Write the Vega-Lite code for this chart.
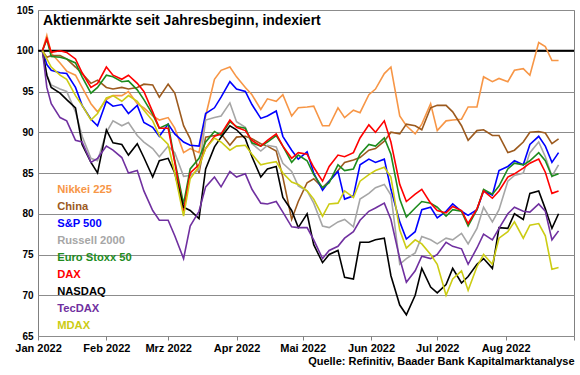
{
  "$schema": "https://vega.github.io/schema/vega-lite/v6.json",
  "width": 536,
  "height": 326,
  "autosize": {"type": "none"},
  "padding": {"left": 38, "top": 10, "right": 6, "bottom": 39},
  "background": "white",
  "title": {"text": "Aktienmärkte seit Jahresbeginn, indexiert", "anchor": "start", "frame": "group", "offset": -23, "dx": 5, "fontSize": 14, "fontWeight": "bold", "font": "Liberation Sans", "color": "black"},
  "config": {"view": {"stroke": "#808080", "strokeWidth": 1}, "font": "Liberation Sans"},
  "data": {"values": [
    {"d":"2022-01-03","Nikkei 225":100,"China":100,"S&P 500":100,"Russell 2000":100,"Euro Stoxx 50":100,"DAX":100,"NASDAQ":100,"TecDAX":100,"MDAX":100},
    {"d":"2022-01-05","Nikkei 225":101.9,"China":99.2,"S&P 500":98.3,"Russell 2000":97,"Euro Stoxx 50":101.4,"DAX":101.5,"NASDAQ":97,"TecDAX":95.5,"MDAX":99},
    {"d":"2022-01-07","Nikkei 225":99.7,"China":99.4,"S&P 500":97.6,"Russell 2000":95.8,"Euro Stoxx 50":99.3,"DAX":99.8,"NASDAQ":95.5,"TecDAX":93.5,"MDAX":98},
    {"d":"2022-01-11","Nikkei 225":98.5,"China":99.4,"S&P 500":97.3,"Russell 2000":95.3,"Euro Stoxx 50":99.2,"DAX":100,"NASDAQ":94.8,"TecDAX":91.8,"MDAX":97},
    {"d":"2022-01-14","Nikkei 225":97.5,"China":99,"S&P 500":97.2,"Russell 2000":95,"Euro Stoxx 50":99,"DAX":99.8,"NASDAQ":94,"TecDAX":91.4,"MDAX":96.5},
    {"d":"2022-01-18","Nikkei 225":97,"China":98,"S&P 500":95.5,"Russell 2000":92.5,"Euro Stoxx 50":98.5,"DAX":99,"NASDAQ":93,"TecDAX":89,"MDAX":94.5},
    {"d":"2022-01-21","Nikkei 225":95.5,"China":97.2,"S&P 500":93.3,"Russell 2000":89.5,"Euro Stoxx 50":96.8,"DAX":97.3,"NASDAQ":88.5,"TecDAX":88.8,"MDAX":93.3},
    {"d":"2022-01-25","Nikkei 225":93.5,"China":96,"S&P 500":91.6,"Russell 2000":86.8,"Euro Stoxx 50":94.8,"DAX":95.5,"NASDAQ":86.3,"TecDAX":86.3,"MDAX":91.5},
    {"d":"2022-01-28","Nikkei 225":92.5,"China":96.4,"S&P 500":90.8,"Russell 2000":86.5,"Euro Stoxx 50":95.5,"DAX":96,"NASDAQ":85,"TecDAX":86.8,"MDAX":92.3},
    {"d":"2022-02-01","Nikkei 225":94,"China":95.5,"S&P 500":93.8,"Russell 2000":90,"Euro Stoxx 50":97,"DAX":98,"NASDAQ":90.3,"TecDAX":88.3,"MDAX":94.2},
    {"d":"2022-02-04","Nikkei 225":94.5,"China":95.3,"S&P 500":93.2,"Russell 2000":91.4,"Euro Stoxx 50":96.8,"DAX":97,"NASDAQ":88.7,"TecDAX":87.8,"MDAX":94.5},
    {"d":"2022-02-08","Nikkei 225":94.5,"China":95.5,"S&P 500":93.4,"Russell 2000":90.8,"Euro Stoxx 50":96.2,"DAX":96.5,"NASDAQ":88.5,"TecDAX":86.9,"MDAX":93.8},
    {"d":"2022-02-11","Nikkei 225":95,"China":95.3,"S&P 500":92.3,"Russell 2000":91.2,"Euro Stoxx 50":96.3,"DAX":97,"NASDAQ":87.2,"TecDAX":85,"MDAX":94.5},
    {"d":"2022-02-15","Nikkei 225":93.5,"China":95.5,"S&P 500":93.3,"Russell 2000":89.6,"Euro Stoxx 50":95.2,"DAX":96,"NASDAQ":88.6,"TecDAX":85.3,"MDAX":93.8},
    {"d":"2022-02-18","Nikkei 225":93,"China":95.9,"S&P 500":91.2,"Russell 2000":88.8,"Euro Stoxx 50":94,"DAX":95,"NASDAQ":86.9,"TecDAX":82.8,"MDAX":92.7},
    {"d":"2022-02-22","Nikkei 225":92,"China":95.8,"S&P 500":90.6,"Russell 2000":88,"Euro Stoxx 50":92.2,"DAX":92.5,"NASDAQ":84.5,"TecDAX":80.4,"MDAX":91.4},
    {"d":"2022-02-25","Nikkei 225":91.5,"China":94.3,"S&P 500":89.5,"Russell 2000":87,"Euro Stoxx 50":90.5,"DAX":90.5,"NASDAQ":86.5,"TecDAX":79.2,"MDAX":89.6},
    {"d":"2022-03-01","Nikkei 225":91.8,"China":95.9,"S&P 500":91,"Russell 2000":88.3,"Euro Stoxx 50":91,"DAX":90.5,"NASDAQ":86.8,"TecDAX":79.2,"MDAX":88.5},
    {"d":"2022-03-04","Nikkei 225":90.5,"China":94.8,"S&P 500":89.8,"Russell 2000":87.5,"Euro Stoxx 50":86.5,"DAX":86.3,"NASDAQ":85,"TecDAX":77.3,"MDAX":85},
    {"d":"2022-03-08","Nikkei 225":87.5,"China":90.8,"S&P 500":88.8,"Russell 2000":84.6,"Euro Stoxx 50":81.2,"DAX":80.3,"NASDAQ":80.8,"TecDAX":74.5,"MDAX":79.7},
    {"d":"2022-03-11","Nikkei 225":88,"China":89.2,"S&P 500":88.4,"Russell 2000":84.7,"Euro Stoxx 50":85.5,"DAX":85,"NASDAQ":80.4,"TecDAX":78.5,"MDAX":84.3},
    {"d":"2022-03-15","Nikkei 225":87.5,"China":85,"S&P 500":88.3,"Russell 2000":85.4,"Euro Stoxx 50":86.8,"DAX":86,"NASDAQ":79.4,"TecDAX":80.3,"MDAX":85.8},
    {"d":"2022-03-18","Nikkei 225":92,"China":89.4,"S&P 500":92.3,"Russell 2000":91.5,"Euro Stoxx 50":88.8,"DAX":88,"NASDAQ":85.5,"TecDAX":83.3,"MDAX":88},
    {"d":"2022-03-22","Nikkei 225":96.5,"China":89.6,"S&P 500":93,"Russell 2000":91.8,"Euro Stoxx 50":90.1,"DAX":89.5,"NASDAQ":88.2,"TecDAX":84.5,"MDAX":89.3},
    {"d":"2022-03-25","Nikkei 225":97.6,"China":89.8,"S&P 500":94.3,"Russell 2000":92,"Euro Stoxx 50":89.6,"DAX":89.8,"NASDAQ":89.4,"TecDAX":83.3,"MDAX":88.8},
    {"d":"2022-03-29","Nikkei 225":98,"China":88.4,"S&P 500":96.2,"Russell 2000":93.6,"Euro Stoxx 50":91.3,"DAX":91.5,"NASDAQ":90.8,"TecDAX":85.2,"MDAX":87.8},
    {"d":"2022-04-01","Nikkei 225":96.8,"China":89.4,"S&P 500":95.3,"Russell 2000":91.3,"Euro Stoxx 50":90.7,"DAX":90.6,"NASDAQ":90.3,"TecDAX":84.5,"MDAX":88.3},
    {"d":"2022-04-05","Nikkei 225":95.5,"China":89.5,"S&P 500":95,"Russell 2000":90.6,"Euro Stoxx 50":90.5,"DAX":90.2,"NASDAQ":89.2,"TecDAX":84.9,"MDAX":88.4},
    {"d":"2022-04-08","Nikkei 225":94.6,"China":89.2,"S&P 500":93.4,"Russell 2000":88.6,"Euro Stoxx 50":88.7,"DAX":89,"NASDAQ":87,"TecDAX":83,"MDAX":87.3},
    {"d":"2022-04-12","Nikkei 225":92.8,"China":88.6,"S&P 500":91.7,"Russell 2000":87.7,"Euro Stoxx 50":88.3,"DAX":88.3,"NASDAQ":84.5,"TecDAX":81.3,"MDAX":86},
    {"d":"2022-04-15","Nikkei 225":94.1,"China":88.3,"S&P 500":92,"Russell 2000":88.4,"Euro Stoxx 50":88.8,"DAX":89,"NASDAQ":85.5,"TecDAX":81.2,"MDAX":86.2},
    {"d":"2022-04-19","Nikkei 225":93.8,"China":87.7,"S&P 500":92.6,"Russell 2000":88.2,"Euro Stoxx 50":89.6,"DAX":89.8,"NASDAQ":85.8,"TecDAX":81.5,"MDAX":86.4},
    {"d":"2022-04-22","Nikkei 225":94.6,"China":84.5,"S&P 500":89.5,"Russell 2000":86.2,"Euro Stoxx 50":88.3,"DAX":88.3,"NASDAQ":82,"TecDAX":80.2,"MDAX":85},
    {"d":"2022-04-26","Nikkei 225":92,"China":79.3,"S&P 500":87.8,"Russell 2000":85.2,"Euro Stoxx 50":86.3,"DAX":86.8,"NASDAQ":80.4,"TecDAX":78.4,"MDAX":83.9},
    {"d":"2022-04-29","Nikkei 225":93,"China":81.5,"S&P 500":86.7,"Russell 2000":83.4,"Euro Stoxx 50":87.2,"DAX":87.5,"NASDAQ":78.3,"TecDAX":78.3,"MDAX":83.6},
    {"d":"2022-05-03","Nikkei 225":93.1,"China":83.8,"S&P 500":87.6,"Russell 2000":82.8,"Euro Stoxx 50":86.5,"DAX":87.3,"NASDAQ":80,"TecDAX":78.3,"MDAX":82.8},
    {"d":"2022-05-06","Nikkei 225":93.2,"China":84.3,"S&P 500":85,"Russell 2000":81.3,"Euro Stoxx 50":84.8,"DAX":85.7,"NASDAQ":76.2,"TecDAX":76.8,"MDAX":81.8},
    {"d":"2022-05-10","Nikkei 225":90.8,"China":83.2,"S&P 500":82.9,"Russell 2000":78.5,"Euro Stoxx 50":83.2,"DAX":84,"NASDAQ":74,"TecDAX":74.5,"MDAX":79.7},
    {"d":"2022-05-13","Nikkei 225":90.8,"China":84,"S&P 500":84,"Russell 2000":78.3,"Euro Stoxx 50":83.8,"DAX":85.8,"NASDAQ":75,"TecDAX":75.5,"MDAX":81.2},
    {"d":"2022-05-17","Nikkei 225":93,"China":85.3,"S&P 500":85.2,"Russell 2000":79,"Euro Stoxx 50":86,"DAX":87.2,"NASDAQ":75.5,"TecDAX":76,"MDAX":81.3},
    {"d":"2022-05-20","Nikkei 225":91.8,"China":86.3,"S&P 500":81.8,"Russell 2000":79.3,"Euro Stoxx 50":85.3,"DAX":87,"NASDAQ":72.2,"TecDAX":77,"MDAX":82.8},
    {"d":"2022-05-24","Nikkei 225":92.7,"China":86.6,"S&P 500":82.2,"Russell 2000":78.4,"Euro Stoxx 50":85.5,"DAX":87.5,"NASDAQ":72,"TecDAX":77.8,"MDAX":82},
    {"d":"2022-05-27","Nikkei 225":92.4,"China":86.9,"S&P 500":86,"Russell 2000":81.8,"Euro Stoxx 50":87.3,"DAX":89.3,"NASDAQ":76.5,"TecDAX":79.2,"MDAX":84},
    {"d":"2022-05-31","Nikkei 225":94.6,"China":87.8,"S&P 500":86.7,"Russell 2000":82.5,"Euro Stoxx 50":88.5,"DAX":90.9,"NASDAQ":76.5,"TecDAX":80.3,"MDAX":84.8},
    {"d":"2022-06-03","Nikkei 225":95.3,"China":88,"S&P 500":86.3,"Russell 2000":83.2,"Euro Stoxx 50":88.3,"DAX":90,"NASDAQ":76.8,"TecDAX":80.7,"MDAX":85.3},
    {"d":"2022-06-07","Nikkei 225":97.2,"China":88.9,"S&P 500":86.7,"Russell 2000":83.6,"Euro Stoxx 50":89.3,"DAX":91.4,"NASDAQ":77,"TecDAX":81.3,"MDAX":85.7},
    {"d":"2022-06-10","Nikkei 225":98,"China":90,"S&P 500":83,"Russell 2000":82.3,"Euro Stoxx 50":87.3,"DAX":88.8,"NASDAQ":72.4,"TecDAX":79.3,"MDAX":84.5},
    {"d":"2022-06-14","Nikkei 225":92,"China":89.8,"S&P 500":79,"Russell 2000":73.8,"Euro Stoxx 50":81.8,"DAX":83.6,"NASDAQ":68.8,"TecDAX":74.5,"MDAX":78},
    {"d":"2022-06-17","Nikkei 225":90.8,"China":91,"S&P 500":76.9,"Russell 2000":74.5,"Euro Stoxx 50":79.6,"DAX":81.5,"NASDAQ":67.6,"TecDAX":71.6,"MDAX":75.8},
    {"d":"2022-06-21","Nikkei 225":89.8,"China":90.8,"S&P 500":77.8,"Russell 2000":75.2,"Euro Stoxx 50":80.7,"DAX":82.4,"NASDAQ":70,"TecDAX":73,"MDAX":76.8},
    {"d":"2022-06-24","Nikkei 225":91,"China":90.3,"S&P 500":80.5,"Russell 2000":77.2,"Euro Stoxx 50":81.5,"DAX":83,"NASDAQ":73.3,"TecDAX":74.8,"MDAX":76.3},
    {"d":"2022-06-28","Nikkei 225":93.5,"China":93,"S&P 500":80.8,"Russell 2000":76.8,"Euro Stoxx 50":81.3,"DAX":81.3,"NASDAQ":71,"TecDAX":74.5,"MDAX":75},
    {"d":"2022-07-01","Nikkei 225":90.2,"China":93.3,"S&P 500":79.5,"Russell 2000":76.3,"Euro Stoxx 50":80.8,"DAX":80.4,"NASDAQ":70.3,"TecDAX":75,"MDAX":73.8},
    {"d":"2022-07-05","Nikkei 225":91.4,"China":93.3,"S&P 500":80.3,"Russell 2000":77,"Euro Stoxx 50":79.7,"DAX":80.1,"NASDAQ":71.3,"TecDAX":76.5,"MDAX":70},
    {"d":"2022-07-08","Nikkei 225":91.5,"China":92.5,"S&P 500":81.2,"Russell 2000":76.8,"Euro Stoxx 50":80.5,"DAX":80.9,"NASDAQ":73.3,"TecDAX":76,"MDAX":72},
    {"d":"2022-07-12","Nikkei 225":91.6,"China":90.8,"S&P 500":80.3,"Russell 2000":77.6,"Euro Stoxx 50":80.3,"DAX":80.4,"NASDAQ":71.5,"TecDAX":75.7,"MDAX":73},
    {"d":"2022-07-15","Nikkei 225":93.1,"China":89,"S&P 500":79.8,"Russell 2000":76.3,"Euro Stoxx 50":78.5,"DAX":78.8,"NASDAQ":72.3,"TecDAX":73.8,"MDAX":70.6},
    {"d":"2022-07-19","Nikkei 225":93.1,"China":90.2,"S&P 500":80.5,"Russell 2000":78.2,"Euro Stoxx 50":80.5,"DAX":80.6,"NASDAQ":73.8,"TecDAX":75.8,"MDAX":73.5},
    {"d":"2022-07-22","Nikkei 225":96.8,"China":90.3,"S&P 500":82.8,"Russell 2000":80.8,"Euro Stoxx 50":83,"DAX":82.8,"NASDAQ":74.5,"TecDAX":77.5,"MDAX":75},
    {"d":"2022-07-26","Nikkei 225":96.2,"China":89.6,"S&P 500":82.3,"Russell 2000":79,"Euro Stoxx 50":82.4,"DAX":81.9,"NASDAQ":73.3,"TecDAX":76.8,"MDAX":73.8},
    {"d":"2022-07-29","Nikkei 225":96.6,"China":89.6,"S&P 500":85.3,"Russell 2000":80.5,"Euro Stoxx 50":83.4,"DAX":82.8,"NASDAQ":78.3,"TecDAX":78.2,"MDAX":77},
    {"d":"2022-08-02","Nikkei 225":96.2,"China":87.5,"S&P 500":85.8,"Russell 2000":84,"Euro Stoxx 50":85.5,"DAX":84.5,"NASDAQ":78.2,"TecDAX":80,"MDAX":77.8},
    {"d":"2022-08-05","Nikkei 225":97.6,"China":87.8,"S&P 500":86.5,"Russell 2000":84.7,"Euro Stoxx 50":86.2,"DAX":84.9,"NASDAQ":80,"TecDAX":80.8,"MDAX":79},
    {"d":"2022-08-09","Nikkei 225":97.8,"China":88.8,"S&P 500":86,"Russell 2000":85,"Euro Stoxx 50":86,"DAX":85.6,"NASDAQ":79.3,"TecDAX":80.3,"MDAX":77},
    {"d":"2022-08-12","Nikkei 225":97,"China":90,"S&P 500":88.5,"Russell 2000":87.5,"Euro Stoxx 50":86.5,"DAX":86.2,"NASDAQ":82.5,"TecDAX":80.2,"MDAX":78.6},
    {"d":"2022-08-16","Nikkei 225":101,"China":90.1,"S&P 500":89.5,"Russell 2000":88.8,"Euro Stoxx 50":87.5,"DAX":86.7,"NASDAQ":82.8,"TecDAX":81.2,"MDAX":78.8},
    {"d":"2022-08-19","Nikkei 225":100.5,"China":89.9,"S&P 500":88.3,"Russell 2000":87,"Euro Stoxx 50":86.5,"DAX":85.1,"NASDAQ":80.6,"TecDAX":80.3,"MDAX":77.3},
    {"d":"2022-08-22","Nikkei 225":98.8,"China":88.6,"S&P 500":86.3,"Russell 2000":84.6,"Euro Stoxx 50":84.6,"DAX":82.5,"NASDAQ":78.2,"TecDAX":76.8,"MDAX":73.2},
    {"d":"2022-08-25","Nikkei 225":98.8,"China":89.2,"S&P 500":87.5,"Russell 2000":86,"Euro Stoxx 50":84.9,"DAX":82.8,"NASDAQ":80,"TecDAX":77.9,"MDAX":73.4}
  ]},
  "transform": [{"fold": ["Nikkei 225","China","S&P 500","Russell 2000","Euro Stoxx 50","DAX","NASDAQ","TecDAX","MDAX"], "as": ["series","value"]}],
  "layer": [
    {
      "data": {"values": [{}]},
      "mark": {"type": "rule", "color": "black", "strokeWidth": 2},
      "encoding": {"y": {"datum": 100, "type": "quantitative"}}
    },
    {
      "mark": {"type": "line", "strokeWidth": 1.6},
      "encoding": {
        "x": {"field": "d", "type": "temporal",
          "scale": {"type": "utc", "domain": [{"year": 2022, "month": 1, "date": 1, "utc": true}, {"year": 2022, "month": 9, "date": 1, "utc": true}]},
          "axis": {
            "values": [
              {"year": 2022, "month": 1, "date": 1, "utc": true},
              {"year": 2022, "month": 2, "date": 1, "utc": true},
              {"year": 2022, "month": 3, "date": 1, "utc": true},
              {"year": 2022, "month": 4, "date": 1, "utc": true},
              {"year": 2022, "month": 5, "date": 1, "utc": true},
              {"year": 2022, "month": 6, "date": 1, "utc": true},
              {"year": 2022, "month": 7, "date": 1, "utc": true},
              {"year": 2022, "month": 8, "date": 1, "utc": true},
              {"year": 2022, "month": 9, "date": 1, "utc": true}
            ],
            "labelExpr": "utcmonth(datum.value) >= 8 ? '' : ['Jan','Feb','Mrz','Apr','Mai','Jun','Jul','Aug'][utcmonth(datum.value)] + ' 2022'",
            "grid": false, "domain": false, "tickColor": "#808080", "tickSize": 4,
            "labelFont": "Liberation Sans", "labelFontSize": 11, "labelFontWeight": "bold", "labelColor": "black",
            "labelPadding": 2, "labelOverlap": false, "labelFlush": false,
            "title": "Quelle: Refinitiv, Baader Bank Kapitalmarktanalyse", "titleAnchor": "end",
            "titleFont": "Liberation Sans", "titleFontSize": 11, "titleFontWeight": "bold", "titleColor": "black", "titlePadding": 2
          }
        },
        "y": {"field": "value", "type": "quantitative",
          "scale": {"domain": [65, 105], "nice": false, "zero": false},
          "axis": {"values": [65, 70, 75, 80, 85, 90, 95, 100, 105], "title": null, "grid": true, "gridColor": "#8c8c8c", "gridWidth": 1,
            "ticks": false, "domain": false, "labelPadding": 5,
            "labelFont": "Liberation Sans", "labelFontSize": 10, "labelFontWeight": "bold", "labelColor": "black"}
        },
        "color": {"field": "series", "type": "nominal",
          "scale": {"domain": ["Nikkei 225","China","S&P 500","Russell 2000","Euro Stoxx 50","DAX","NASDAQ","TecDAX","MDAX"],
                    "range": ["#F79646","#9C5A1E","#0000FF","#A6A6A6","#1E8C1E","#FF0000","#000000","#7030A0","#CCCC14"]},
          "legend": {"orient": "none", "legendX": 8, "legendY": 174, "title": null, "padding": 0,
            "labelFont": "Liberation Sans", "labelFontSize": 11.2, "labelFontWeight": "bold", "labelLimit": 200,
            "symbolSize": 0, "symbolOpacity": 0, "symbolStrokeWidth": 0, "labelOffset": 0, "rowPadding": 5,
            "encode": {"labels": {"update": {"fill": {"scale": "color", "field": "value"}}}}}
        }
      }
    }
  ]
}
